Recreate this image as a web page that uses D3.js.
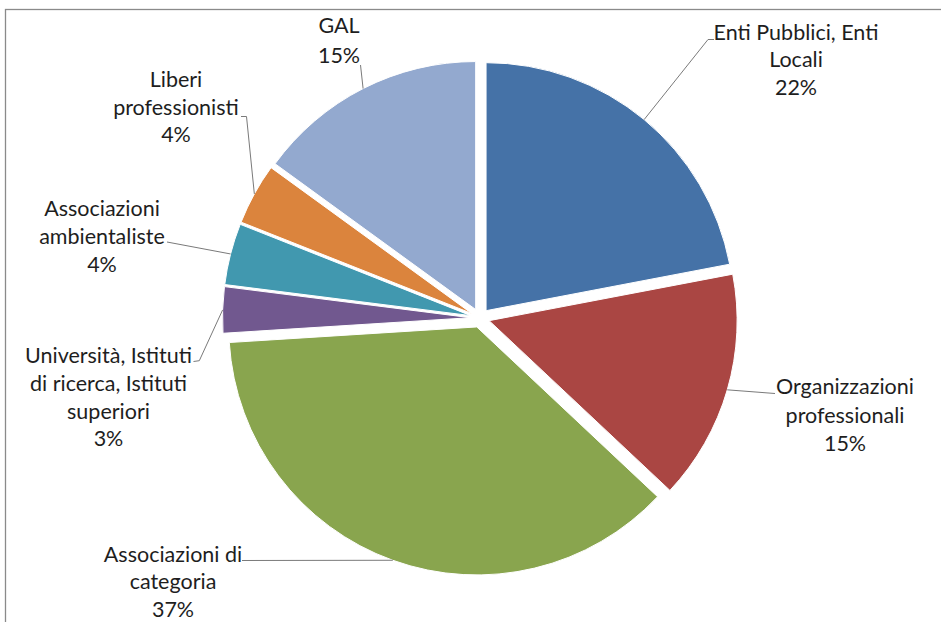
<!DOCTYPE html>
<html>
<head>
<meta charset="utf-8">
<script src="https://cdn.jsdelivr.net/npm/d3@7"></script>
<style>
  html, body { margin: 0; padding: 0; background: #fff; }
  svg { display: block; }
  text { font-family: Lato, "Open Sans", sans-serif; fill: #1e1e1e; }
</style>
</head>
<body>
<script>
// Stakeholder categories, clockwise from 12 o'clock
const categories = [
  "Enti Pubblici, Enti Locali",
  "Organizzazioni professionali",
  "Associazioni di categoria",
  "Università, Istituti di ricerca, Istituti superiori",
  "Associazioni ambientaliste",
  "Liberi professionisti",
  "GAL"
];
// Share of each category (%)
const shares = [22, 15, 37, 3, 4, 4, 15];
// Wrapped label lines for each category
const nameLines = [
  ["Enti Pubblici, Enti", "Locali"],
  ["Organizzazioni", "professionali"],
  ["Associazioni di", "categoria"],
  ["Università, Istituti", "di ricerca, Istituti", "superiori"],
  ["Associazioni", "ambientaliste"],
  ["Liberi", "professionisti"],
  ["GAL"]
];
const colors = ["#4572A7", "#AA4643", "#89A54E", "#71588F", "#4198AF", "#DB843D", "#93A9CF"];

const W = 941, H = 622;
const cx = 480, cy = 318, radius = 248, explode = 9.5;

// Label block placement: centre x, first baseline, line step, leader waypoints
const labelLayout = [
  { x: 796, y: 39.5, step: 27.5, leader: [[708, 39.5], [714, 39.5]] },
  { x: 845, y: 394, step: 28.5, leader: [[775, 393.5]] },
  { x: 173, y: 562, step: 27.3, leader: [[242, 560.5]] },
  { x: 108.5, y: 363.3, step: 27.7, leader: [[199.3, 360.7], [193.5, 361.5]] },
  { x: 102, y: 216, step: 28, leader: [[167, 242]] },
  { x: 176, y: 86.7, step: 27.8, leader: [[246.5, 116.5], [241, 116.5]] },
  { x: 339, y: 33.3, step: 29.4, leader: [[360.5, 65]] }
];

const svg = d3.select("body").append("svg")
  .attr("width", W).attr("height", H);

svg.append("rect").attr("width", W).attr("height", H).attr("fill", "#fff");

// Chart area frame (runs past the right and bottom edges)
svg.append("rect")
  .attr("x", 5.5).attr("y", 9.5)
  .attr("width", W + 10).attr("height", H + 10)
  .attr("fill", "none").attr("stroke", "#8a8a8a").attr("stroke-width", 1.3);

const pie = d3.pie().sort(null).value(d => d)
  .startAngle(0).endAngle(2 * Math.PI);
const arcs = pie(shares);

const arc = d3.arc().innerRadius(0).outerRadius(radius);

// Each slice is pulled out along its bisector
const offsetOf = a => {
  const mid = (a.startAngle + a.endAngle) / 2;
  return [explode * Math.sin(mid), -explode * Math.cos(mid)];
};

const g = svg.append("g").attr("transform", `translate(${cx},${cy})`);

g.selectAll("path.slice")
  .data(arcs)
  .join("path")
  .attr("class", "slice")
  .attr("transform", d => { const o = offsetOf(d); return `translate(${o[0]},${o[1]})`; })
  .attr("d", arc)
  .attr("fill", (d, i) => colors[i])
  .attr("stroke", "#fff")
  .attr("stroke-width", 1);

// Leader lines from the slice rim (at its bisector) to the label
const line = d3.line();
arcs.forEach((a, i) => {
  const o = offsetOf(a);
  const mid = (a.startAngle + a.endAngle) / 2;
  const rim = [cx + o[0] + radius * Math.sin(mid), cy + o[1] - radius * Math.cos(mid)];
  const pts = [rim].concat(labelLayout[i].leader);
  svg.append("path")
    .attr("d", line(pts))
    .attr("fill", "none")
    .attr("stroke", "#7a7a7a")
    .attr("stroke-width", 1);
});

// Category labels with percentage
arcs.forEach((a, i) => {
  const L = labelLayout[i];
  const lines = nameLines[i].concat([`${shares[i]}%`]);
  const t = svg.append("text")
    .attr("text-anchor", "middle")
    .attr("font-size", "21.5px");
  lines.forEach((s, k) => {
    t.append("tspan").attr("x", L.x).attr("y", L.y + k * L.step).text(s);
  });
});
</script>
</body>
</html>
